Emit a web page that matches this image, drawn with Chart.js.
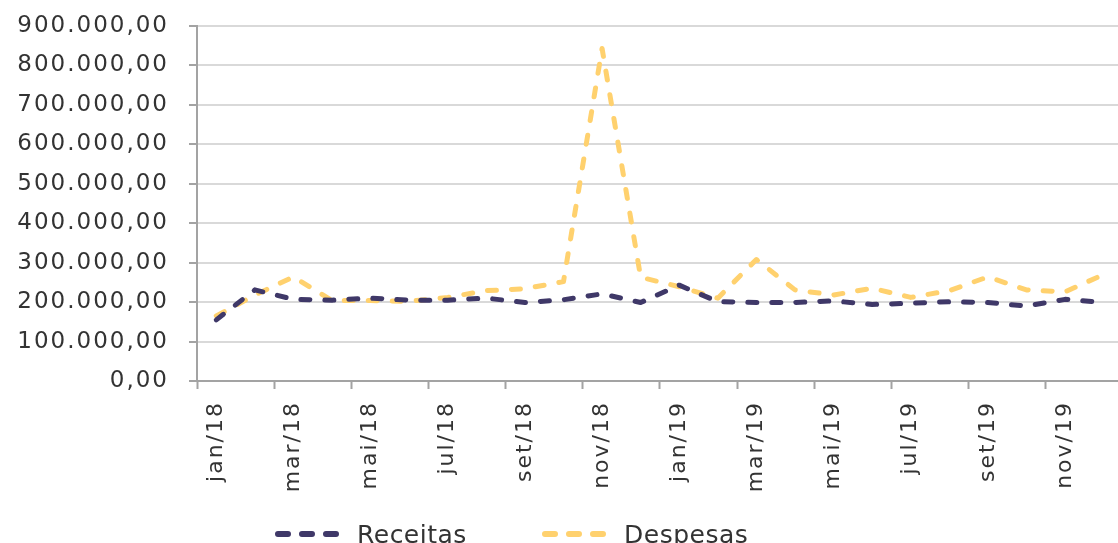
<!DOCTYPE html>
<html>
<head>
<meta charset="utf-8">
<script src="https://cdn.jsdelivr.net/npm/chart.js@4/dist/chart.umd.min.js"></script>
<style>
  html, body { margin: 0; padding: 0; background: #fff; overflow: hidden; }
  #wrap { position: absolute; left: 0; top: 0; width: 1142px; height: 543px; }
  #legend { position: absolute; top: 519px; left: 0; font-family: 'DejaVu Sans', sans-serif;
    font-size: 25px; color: #333; letter-spacing: 0.5px; }
  .item { position: absolute; top: 0; white-space: nowrap; display: flex; align-items: center; }
  .item svg { margin-right: 14px; }
</style>
</head>
<body>
<div id="wrap"><canvas id="receitas-despesas-chart"></canvas></div>
<div id="legend"></div>
<script>
const meses = ['jan/18', 'fev/18', 'mar/18', 'abr/18', 'mai/18', 'jun/18', 'jul/18', 'ago/18', 'set/18', 'out/18', 'nov/18', 'dez/18',
  'jan/19', 'fev/19', 'mar/19', 'abr/19', 'mai/19', 'jun/19', 'jul/19', 'ago/19', 'set/19', 'out/19', 'nov/19', 'dez/19'];

const receitas = [155000, 231000, 207000, 205000, 210000, 205000, 205000, 210000, 199000, 206000, 221000, 199000,
  243000, 201000, 199000, 199000, 203000, 194000, 197000, 201000, 199000, 190000, 207000, 199000];

const despesas = [165000, 218000, 264000, 204000, 204000, 202000, 212000, 229000, 234000, 252000, 843000, 263000,
  239000, 210000, 308000, 231000, 218000, 235000, 212000, 229000, 264000, 231000, 226000, 270000];

const yTicks = [0, 100000, 200000, 300000, 400000, 500000, 600000, 700000, 800000, 900000];

const COR_RECEITAS = '#3f3868';
const COR_DESPESAS = '#ffd16e';
const COR_TEXTO = '#333';
const FONTE = "'DejaVu Sans', sans-serif";

// formato brasileiro: 900.000,00
function formatBR(v) {
  const inteiro = Math.round(v).toString().replace(/\B(?=(\d{3})+(?!\d))/g, '.');
  return inteiro + ',00';
}

// espaçamento entre letras no canvas (a fonte original é mais larga)
const letterSpacingPlugin = {
  id: 'letterSpacing',
  beforeLayout(chart) { chart.ctx.letterSpacing = '2px'; },
  beforeDraw(chart) { chart.ctx.letterSpacing = '2px'; }
};

const ctx = document.getElementById('receitas-despesas-chart').getContext('2d');
const chart = new Chart(ctx, {
  type: 'line',
  data: {
    labels: meses,
    datasets: [
      {
        label: 'Receitas',
        data: receitas,
        borderColor: COR_RECEITAS,
        backgroundColor: COR_RECEITAS,
        borderWidth: 5,
        borderDash: [9, 15],
        borderCapStyle: 'round',
        borderJoinStyle: 'round',
        pointRadius: 0,
        tension: 0
      },
      {
        label: 'Despesas',
        data: despesas,
        borderColor: COR_DESPESAS,
        backgroundColor: COR_DESPESAS,
        borderWidth: 5,
        borderDash: [9, 15],
        borderCapStyle: 'round',
        borderJoinStyle: 'round',
        pointRadius: 0,
        tension: 0
      }
    ]
  },
  options: {
    responsive: true,
    maintainAspectRatio: false,
    animation: false,
    layout: { padding: { top: 26, right: 0, bottom: 0, left: 0 } },
    plugins: {
      legend: { display: false },
      tooltip: { enabled: false }
    },
    scales: {
      x: {
        offset: true,
        grid: {
          offset: true,
          drawOnChartArea: false,
          tickLength: 8,
          tickWidth: 2,
          tickColor: (c) => (c.index % 2 === 0 ? '#a3a3a3' : 'rgba(0,0,0,0)')
        },
        border: { display: true, color: '#a3a3a3', width: 2 },
        ticks: {
          autoSkip: false,
          minRotation: 90,
          maxRotation: 90,
          padding: 12,
          color: COR_TEXTO,
          font: { family: FONTE, size: 22 },
          callback: (v, i) => (i % 2 === 0 ? meses[i] : '')
        },
        afterFit(scale) { scale.height = 162; }
      },
      y: {
        min: 0,
        max: 900000,
        afterBuildTicks(scale) { scale.ticks = yTicks.map(v => ({ value: v })); },
        grid: {
          color: '#d9d9d9',
          lineWidth: 2,
          tickLength: 8,
          tickWidth: 2,
          tickColor: '#a3a3a3'
        },
        border: { display: true, color: '#a3a3a3', width: 2 },
        ticks: {
          padding: 20,
          color: COR_TEXTO,
          font: { family: FONTE, size: 23 },
          callback: (v) => formatBR(v)
        },
        afterFit(scale) {
          scale.width = 197;
          // o padding do rótulo não deve empurrar a área do gráfico
          scale.paddingTop = 0;
          scale.paddingBottom = 0;
        }
      }
    }
  },
  plugins: [letterSpacingPlugin]
});

// legenda em HTML, com o mesmo tracejado das linhas
const legenda = [
  { texto: 'Receitas', cor: COR_RECEITAS, x: 273 },
  { texto: 'Despesas', cor: COR_DESPESAS, x: 540 }
];
const legendDiv = document.getElementById('legend');
legenda.forEach(l => {
  const item = document.createElement('div');
  item.className = 'item';
  item.style.left = l.x + 'px';
  item.innerHTML = '<svg width="70" height="30"><line x1="5" y1="15" x2="65" y2="15" stroke="' + l.cor +
    '" stroke-width="6" stroke-linecap="round" stroke-dasharray="10 14"></line></svg>';
  const span = document.createElement('span');
  span.textContent = l.texto;
  item.appendChild(span);
  legendDiv.appendChild(item);
});
</script>
</body>
</html>
